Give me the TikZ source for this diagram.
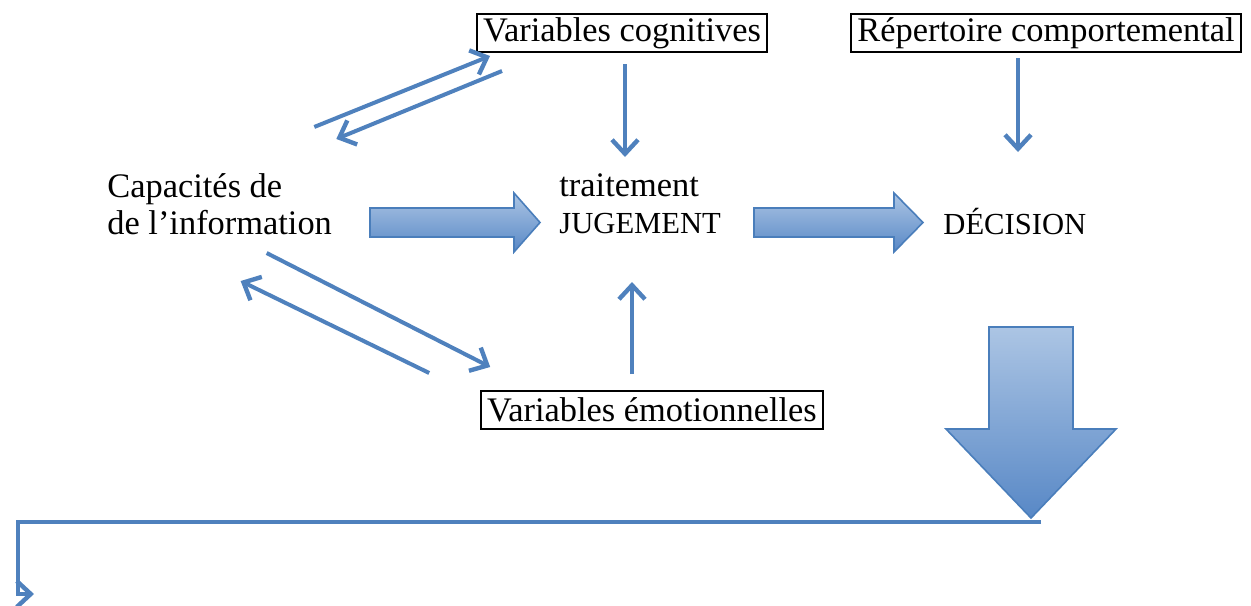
\documentclass[tikz,border=0pt]{standalone}
\usepackage{fontspec}
\setmainfont{Liberation Serif}
\usetikzlibrary{arrows.meta}
\definecolor{arrowblue}{RGB}{79,129,189}
\definecolor{edgeblue}{RGB}{74,126,187}
\definecolor{lightblue}{RGB}{172,197,228}
\definecolor{darkblue}{RGB}{88,136,198}

\begin{document}
\begin{tikzpicture}[x=0.5pt, y=-0.5pt,
    txt/.style={font=\fontsize{17.2}{18.5}\selectfont, inner sep=0pt},
    box/.style={txt, draw, line width=1pt, inner xsep=3pt, minimum height=19pt},
    flow/.style={draw=arrowblue, line width=2pt, -{Straight Barb[length=7pt,width=13pt,line width=2.2pt]}},
    blk/.style={draw=edgeblue, line width=0.8pt, top color=lightblue, bottom color=darkblue}]
	\useasboundingbox (0,0) rectangle (1251,605);

	% boxes and labels
	\node[box] (cog) at (622,33) {Variables cognitives};
	\node[box] (rep) at (1046,33) {Répertoire comportemental};
	\node[box] (emo) at (652,410) {Variables émotionnelles};
	\node[txt, anchor=west, align=left] (cap) at (107,204) {Capacités de\\de l’information};
	\node[txt, anchor=west, align=left] (jug) at (559,204) {traitement\\{\fontsize{15.3}{18.5}\selectfont JUGEMENT}};
	\node[txt, anchor=base west, font=\fontsize{15.3}{18.5}\selectfont] (dec) at (943,234) {DÉCISION};

	% free arrow ends
	\coordinate (jugtop) at (625,157);
	\coordinate (jugbot) at (632,282);
	\coordinate (dectop) at (1018,152);
	\coordinate (bigtip) at (1031,518);
	\coordinate (outend) at (34,594);

	% block arrows
	\draw[blk] (370,208) -- (514,208) -- (514,193) -- (540,222.5) -- (514,252) -- (514,237) -- (370,237) -- cycle;
	\draw[blk] (754,208) -- (894,208) -- (894,193) -- (923,222.5) -- (894,252) -- (894,237) -- (754,237) -- cycle;
	\draw[blk] (989,327) -- (1073,327) -- (1073,429) -- (1116,429) -- (bigtip) -- (946,429) -- (989,429) -- cycle;

	% thin arrows
	\draw[flow] ([xshift=1.5pt,yshift=-5.5pt]cog.south) -- (jugtop);
	\draw[flow] ([xshift=-14pt,yshift=-2.5pt]rep.south) -- (dectop);
	\draw[flow] ([xshift=-10pt,yshift=8pt]emo.north) -- (jugbot);
	\draw[flow] ([shift={(-9pt,23pt)}]cap.north east) -- ([shift={(7pt,-1.5pt)}]cog.south west);
	\draw[flow] ([shift={(13pt,-9pt)}]cog.south west) -- ([shift={(2pt,17pt)}]cap.north east);
	\draw[flow] ([shift={(23.5pt,-9pt)}]cap.south) -- ([shift={(5pt,11.5pt)}]emo.north west);
	\draw[flow] ([shift={(-25.5pt,8.5pt)}]emo.north west) -- ([shift={(10.5pt,-23pt)}]cap.south);
	\draw[flow] ([shift={(5pt,-2pt)}]bigtip) -| ([xshift=-8pt]outend) -- (outend);
\end{tikzpicture}
\end{document}
